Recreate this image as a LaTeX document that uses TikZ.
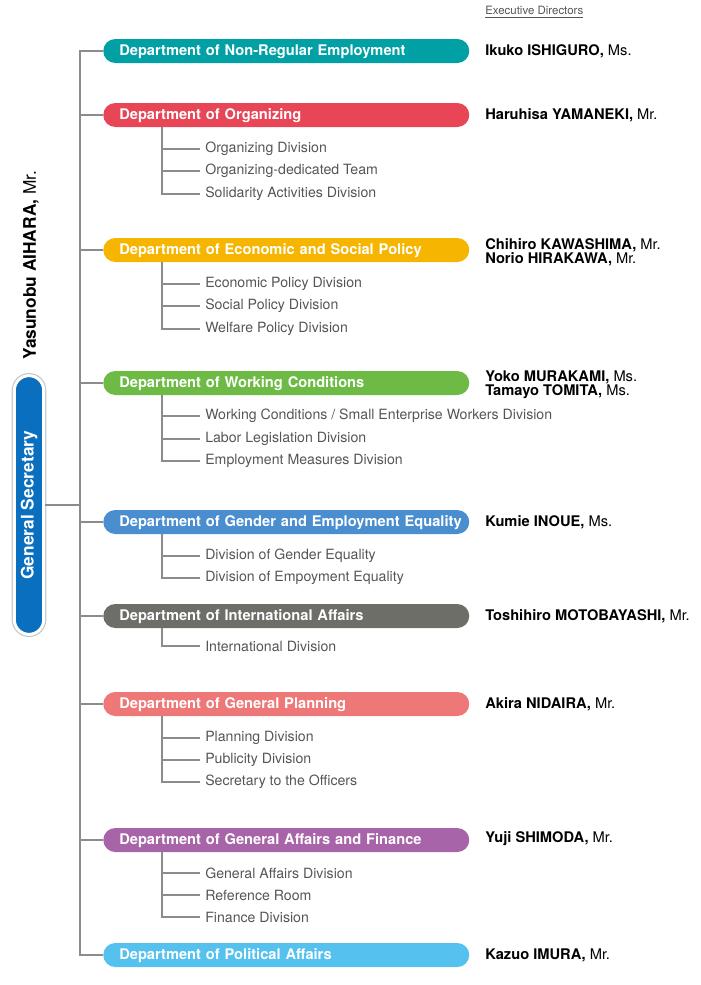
\documentclass[tikz,border=0pt]{standalone}
\usepackage{fontspec}
\setmainfont{TeX Gyre Heros}
\definecolor{nonregteal}{RGB}{0,160,164}
\definecolor{orgred}{RGB}{232,69,87}
\definecolor{econyellow}{RGB}{245,181,0}
\definecolor{workgreen}{RGB}{109,187,69}
\definecolor{genderblue}{RGB}{74,142,208}
\definecolor{intlgray}{RGB}{110,110,104}
\definecolor{plansalmon}{RGB}{238,119,119}
\definecolor{affpurple}{RGB}{167,100,168}
\definecolor{polcyan}{RGB}{85,193,238}
\definecolor{secblue}{RGB}{10,111,190}
\definecolor{linegray}{RGB}{140,140,140}
\definecolor{divgray}{RGB}{85,85,85}

\begin{document}
\begin{tikzpicture}[x=0.75pt, y=-0.75pt,
    dept/.style={anchor=west, rounded corners=9pt, text width=274.5pt, inner xsep=0pt, inner ysep=0pt,
      text height=8pt, text depth=1pt, minimum height=18pt, align=left, text=white,
      execute at begin node={\hspace*{12pt}}, font=\fontsize{11}{12}\selectfont\bfseries},
    div/.style={anchor=west, inner xsep=3.75pt, inner ysep=1pt, text=divgray, font=\fontsize{10.6}{12}\selectfont},
    dir/.style={anchor=west, inner sep=0pt, align=left, font=\fontsize{11}{10.5}\selectfont},
    trunk/.style={draw=linegray, line width=2.2pt},
    sub/.style={draw=linegray, line width=0.8pt}]
  \useasboundingbox (0,0) rectangle (700,985);

  % general secretary
  \node[rotate=90, fill=secblue, draw=white, line width=2.2pt, rounded corners=11pt, minimum width=194pt,
    minimum height=22pt, text=white, font=\fontsize{13}{14}\selectfont\bfseries,
    preaction={draw=black!22, line width=4pt}] (gensec) at (29,505) {General Secretary};
  \node[rotate=90, inner sep=0pt, font=\fontsize{13}{14}\selectfont] (aihara) at (31,265) {\textbf{Yasunobu AIHARA,} Mr.};

  % departments
  \node[dept, fill=nonregteal] (nonreg) at (103,51) {Department of Non-Regular Employment};
  \node[dept, fill=orgred] (organizing) at (103,115) {Department of Organizing};
  \node[dept, fill=econyellow] (econ) at (103,250) {Department of Economic and Social Policy};
  \node[dept, fill=workgreen] (working) at (103,383) {Department of Working Conditions};
  \node[dept, fill=genderblue] (gender) at (103,522) {Department of Gender and Employment Equality};
  \node[dept, fill=intlgray] (intl) at (103,616) {Department of International Affairs};
  \node[dept, fill=plansalmon] (planning) at (103,704) {Department of General Planning};
  \node[dept, fill=affpurple] (genaff) at (103,840) {Department of General Affairs and Finance};
  \node[dept, fill=polcyan] (political) at (103,955) {Department of Political Affairs};

  % divisions
  \node[div] (org1) at (200,149) {Organizing Division};
  \node[div] (org2) at (200,171) {Organizing-dedicated Team};
  \node[div] (org3) at (200,194) {Solidarity Activities Division};
  \node[div] (econ1) at (200,284) {Economic Policy Division};
  \node[div] (econ2) at (200,306) {Social Policy Division};
  \node[div] (econ3) at (200,329) {Welfare Policy Division};
  \node[div] (work1) at (200,416) {Working Conditions / Small Enterprise Workers Division};
  \node[div] (work2) at (200,439) {Labor Legislation Division};
  \node[div] (work3) at (200,461) {Employment Measures Division};
  \node[div] (gend1) at (200,556) {Division of Gender Equality};
  \node[div] (gend2) at (200,578) {Division of Empoyment Equality};
  \node[div] (intl1) at (200,646) {International Division};
  \node[div] (plan1) at (200,738) {Planning Division};
  \node[div] (plan2) at (200,760) {Publicity Division};
  \node[div] (plan3) at (200,782) {Secretary to the Officers};
  \node[div] (aff1) at (200,873) {General Affairs Division};
  \node[div] (aff2) at (200,895) {Reference Room};
  \node[div] (aff3) at (200,917) {Finance Division};

  % executive directors
  \node[anchor=west, inner sep=0pt, text=divgray, font=\fontsize{8.6}{9}\selectfont] (execdir) at (485,12) {\underline{Executive Directors}};
  \node[dir] (ishiguro) at (485,51) {\textbf{Ikuko ISHIGURO,} Ms.};
  \node[dir] (yamaneki) at (485,115) {\textbf{Haruhisa YAMANEKI,} Mr.};
  \node[dir] (kawashima) at (485,252) {\textbf{Chihiro KAWASHIMA,} Mr.\\\textbf{Norio HIRAKAWA,} Mr.};
  \node[dir] (murakami) at (485,385) {\textbf{Yoko MURAKAMI,} Ms.\\\textbf{Tamayo TOMITA,} Ms.};
  \node[dir] (inoue) at (485,522) {\textbf{Kumie INOUE,} Ms.};
  \node[dir] (motobayashi) at (485,616) {\textbf{Toshihiro MOTOBAYASHI,} Mr.};
  \node[dir] (nidaira) at (485,704) {\textbf{Akira NIDAIRA,} Mr.};
  \node[dir] (shimoda) at (485,839) {\textbf{Yuji SHIMODA,} Mr.};
  \node[dir] (imura) at (485,955) {\textbf{Kazuo IMURA,} Mr.};

  % trunk
  \draw[trunk] (nonreg.west) -- ++(-23,0) |- (political.west);
  \foreach \d in {organizing, econ, working, gender, intl, planning, genaff} {
      \draw[trunk] (\d.west) -- ++(-23,0);
  }
  \draw[trunk] (gensec.south) -- ++(35,0);

  % division branches
  \foreach \d/\c in {organizing/org1, organizing/org2, organizing/org3, econ/econ1, econ/econ2, econ/econ3,
      working/work1, working/work2, working/work3, gender/gend1, gender/gend2, intl/intl1,
      planning/plan1, planning/plan2, planning/plan3, genaff/aff1, genaff/aff2, genaff/aff3} {
      \draw[sub] ([xshift=44.25pt]\d.south west) |- (\c.west);
  }
\end{tikzpicture}
\end{document}
